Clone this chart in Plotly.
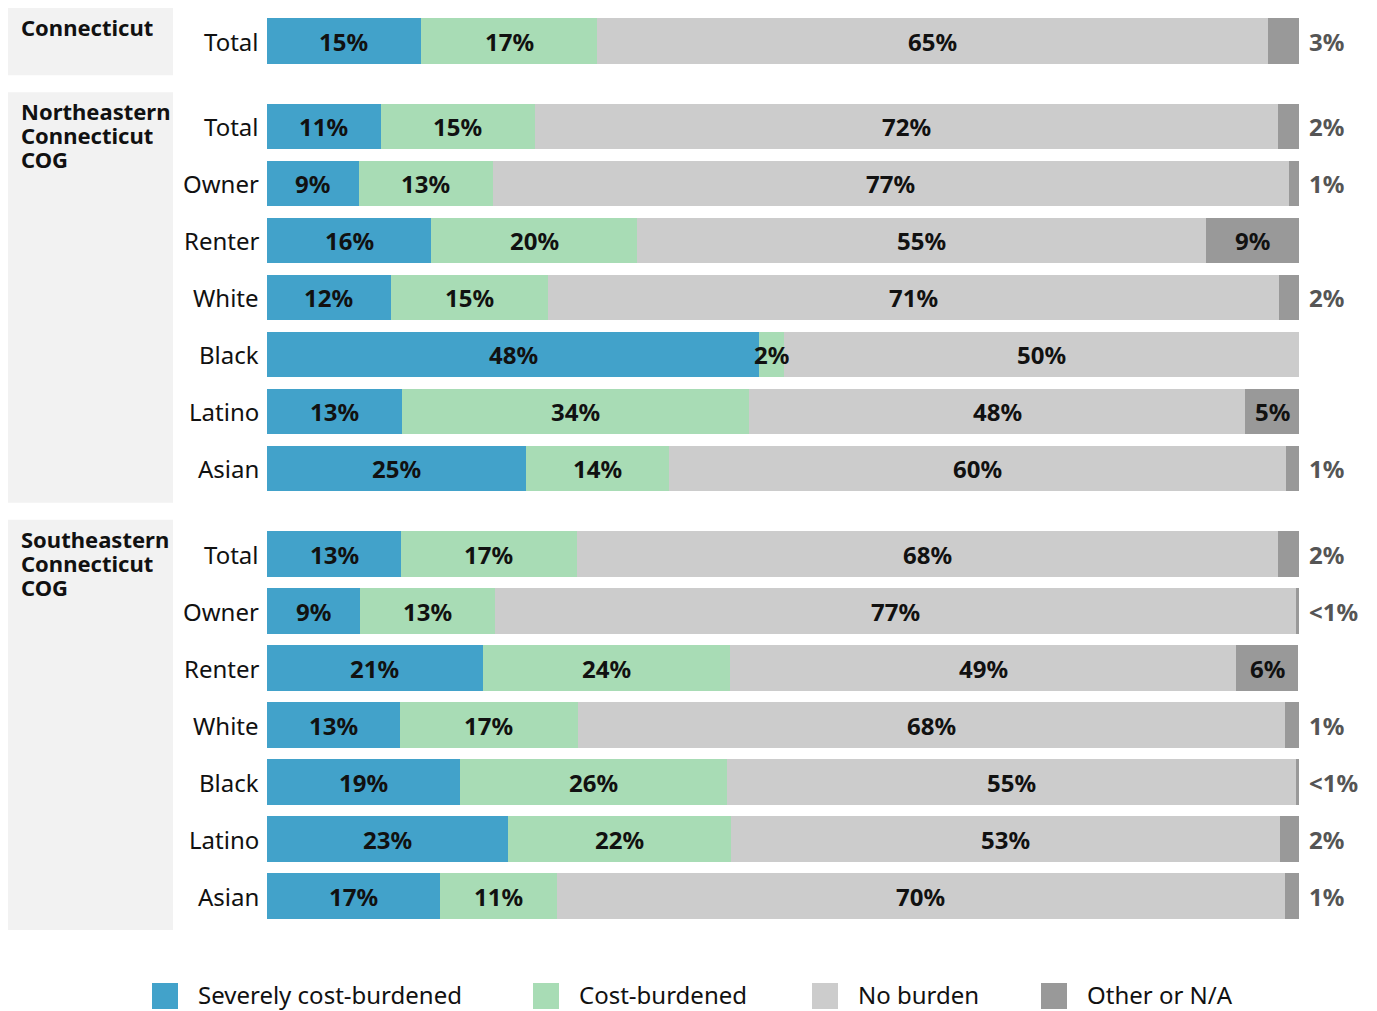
import plotly.graph_objects as go

# ---------------- data ----------------
groups = ["Connecticut", "Northeastern Connecticut COG", "Southeastern Connecticut COG"]
group_rows = [
    ["Total"],
    ["Total", "Owner", "Renter", "White", "Black", "Latino", "Asian"],
    ["Total", "Owner", "Renter", "White", "Black", "Latino", "Asian"],
]
series_names = ["Severely cost-burdened", "Cost-burdened", "No burden", "Other or N/A"]
series_colors = ["#42A2CA", "#A8DCB5", "#CCCCCC", "#999999"]

severe = [14.9, 11.0, 8.9, 15.9, 12.0, 47.7, 13.1, 25.1, 13.0, 9.0, 20.9, 12.9, 18.7, 23.4, 16.8]
burdened = [17.1, 15.0, 13.0, 20.0, 15.2, 2.4, 33.6, 13.9, 17.0, 13.1, 24.0, 17.2, 25.9, 21.6, 11.3]
no_burden = [65.0, 72.0, 77.1, 55.1, 70.9, 49.9, 48.1, 59.7, 68.0, 77.6, 49.0, 68.5, 55.1, 53.2, 70.5]
other = [3.0, 2.0, 1.0, 9.0, 1.9, 0.0, 5.2, 1.4, 2.0, 0.3, 6.0, 1.4, 0.3, 1.9, 1.4]

severe_lbl = ["15%", "11%", "9%", "16%", "12%", "48%", "13%", "25%", "13%", "9%", "21%", "13%", "19%", "23%", "17%"]
burdened_lbl = ["17%", "15%", "13%", "20%", "15%", "2%", "34%", "14%", "17%", "13%", "24%", "17%", "26%", "22%", "11%"]
no_burden_lbl = ["65%", "72%", "77%", "55%", "71%", "50%", "48%", "60%", "68%", "77%", "49%", "68%", "55%", "53%", "70%"]
other_lbl = ["3%", "2%", "1%", "9%", "2%", "", "5%", "1%", "2%", "<1%", "6%", "1%", "<1%", "2%", "1%"]
other_inside = [False, False, False, True, False, False, True, False, False, False, True, False, False, False, False]

FONT = "'Noto Sans', 'Open Sans', sans-serif"

# ---------------- row positions (group gap = half a row) ----------------
ypos = []
group_span = []
cur = 0.0
for gi, rows in enumerate(group_rows):
    if gi > 0:
        cur += 0.5
    start = cur
    for _ in rows:
        ypos.append(cur)
        cur += 1
    group_span.append((start, cur - 1))
row_labels = [r for rows in group_rows for r in rows]

# page body has an 8px margin, so figure pixels = screen pixels - 8
FIG_W, FIG_H = 1369, 1003
M_L, M_R, M_T, M_B = 259, 78, 0, 81
W_PLOT = FIG_W - M_L - M_R
H_PLOT = FIG_H - M_T - M_B
ROW_PX = 57.0
FIRST_PX = 33.0  # figure pixel of first row centre
y_top = -FIRST_PX / ROW_PX
y_bot = (H_PLOT - FIRST_PX) / ROW_PX


def px_x(px):  # screen px -> paper x
    return (px - 8 - M_L) / W_PLOT


def px_y(py):  # screen px -> paper y
    return (M_T + H_PLOT - (py - 8)) / H_PLOT


fig = go.Figure()
values = [severe, burdened, no_burden, other]
for name, col, vals in zip(series_names, series_colors, values):
    fig.add_trace(go.Bar(
        y=ypos, x=vals, orientation="h", name=name, width=0.8,
        marker=dict(color=col, line=dict(width=0)),
        showlegend=False, hovertemplate=name + ": %{x}%<extra></extra>",
    ))

annotations = []
labels = [severe_lbl, burdened_lbl, no_burden_lbl]
for i, y in enumerate(ypos):
    cum = 0.0
    for s in range(3):
        v = values[s][i]
        annotations.append(dict(x=cum + v / 2, y=y, xref="x", yref="y", text="<b>" + labels[s][i] + "</b>",
                                showarrow=False, font=dict(family=FONT, size=24, color="#111111")))
        cum += v
    if other_lbl[i]:
        if other_inside[i]:
            annotations.append(dict(x=min(cum + other[i] / 2, 99.9), y=y, xref="x", yref="y",
                                    text="<b>" + other_lbl[i] + "</b>", showarrow=False,
                                    font=dict(family=FONT, size=24, color="#111111")))
        else:
            total = min(cum + other[i], 100.0)
            annotations.append(dict(x=total, y=y, xref="x", yref="y", xanchor="left", xshift=8,
                                    text="<b>" + other_lbl[i] + "</b>", showarrow=False,
                                    font=dict(family=FONT, size=24, color="#555555")))
    annotations.append(dict(x=0, y=y, xref="paper", yref="y", xanchor="right", xshift=-6,
                            text=row_labels[i], showarrow=False,
                            font=dict(family=FONT, size=24, color="#111111")))

# ---------------- group panels ----------------
shapes = []
for gi, (g, (a, b)) in enumerate(zip(groups, group_span)):
    shapes.append(dict(type="rect", xref="paper", yref="y", x0=px_x(8), x1=px_x(173),
                       y0=max(a - 0.6, y_top), y1=b + 0.6, fillcolor="#F2F2F2",
                       line=dict(width=0), layer="below"))
    words = g.split(" ")
    for li, w in enumerate(words):
        annotations.append(dict(x=px_x(19), y=max(a - 0.6, y_top), xref="paper", yref="y", xanchor="left",
                                yanchor="top", yshift=-5 - 24 * li, height=24, text="<b>" + w + "</b>",
                                showarrow=False, font=dict(family=FONT, size=22, color="#111111")))

# ---------------- legend (manual) ----------------
leg_x = [152, 533, 812, 1041]
for name, col, lx in zip(series_names, series_colors, leg_x):
    shapes.append(dict(type="rect", xref="paper", yref="paper", x0=px_x(lx), x1=px_x(lx + 26),
                       y0=px_y(1009), y1=px_y(983), fillcolor=col, line=dict(width=0)))
    annotations.append(dict(x=px_x(lx + 44), y=px_y(994), xref="paper", yref="paper", xanchor="left",
                            yanchor="middle", text=name, showarrow=False,
                            font=dict(family=FONT, size=24, color="#111111")))

fig.update_layout(
    width=FIG_W, height=FIG_H, barmode="stack", bargap=0,
    margin=dict(l=M_L, r=M_R, t=M_T, b=M_B),
    plot_bgcolor="white", paper_bgcolor="white",
    xaxis=dict(range=[0, 100], visible=False, fixedrange=True),
    yaxis=dict(range=[y_bot, y_top], visible=False, fixedrange=True),
    shapes=shapes, annotations=annotations,
    font=dict(family=FONT),
)

fig.write_html("out.html")
